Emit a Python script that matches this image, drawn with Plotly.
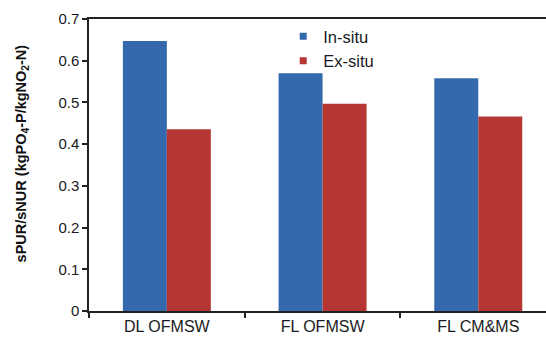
import plotly.graph_objects as go

categories = ["DL OFMSW", "FL OFMSW", "FL CM&MS"]
in_situ = [0.647, 0.570, 0.558]
ex_situ = [0.436, 0.497, 0.466]
series_names = ["In-situ", "Ex-situ"]
series_colors = ["#3469ad", "#b53633"]
y_title = "<b>sPUR/sNUR (kgPO<sub>4</sub>-P/kgNO<sub>2</sub>-N)</b>"

fig = go.Figure()
for name, vals, col in zip(series_names, [in_situ, ex_situ], series_colors):
    fig.add_trace(go.Bar(x=categories, y=vals, name=name, showlegend=False,
                         marker=dict(color=col, line=dict(width=0))))
# legend-only entries with small square swatches
for name, col in zip(series_names, series_colors):
    fig.add_trace(go.Scatter(x=[None], y=[None], mode="markers", name=name,
                             marker=dict(symbol="square", size=7, color=col)))

TXT = "#1a1a22"
fig.update_layout(
    width=546, height=339,
    margin=dict(l=89, r=0, t=19, b=28),
    paper_bgcolor="white", plot_bgcolor="white",
    barmode="group", bargap=0.435, bargroupgap=0,
    font=dict(family="Arial, Liberation Sans, sans-serif", size=15, color=TXT),
    legend=dict(x=0.425, y=1.0, xanchor="left", yanchor="top",
                bgcolor="rgba(0,0,0,0)", font=dict(size=16.5, color=TXT),
                itemwidth=30, tracegroupgap=0),
    showlegend=True,
    annotations=[dict(text=y_title, textangle=-90, xref="paper", yref="paper",
                      x=-0.1477, y=0.538, xanchor="center", yanchor="middle",
                      showarrow=False, font=dict(size=14.5, color="#111"))],
)
fig.update_xaxes(
    type="category", range=[-0.5, 2.435],
    showline=True, linecolor="#222", linewidth=1.5, mirror=True,
    ticks="outside", ticklen=5, tickcolor="#222", tickwidth=1.5,
    tickson="boundaries", showgrid=False, zeroline=False,
    tickfont=dict(size=16, color=TXT),
)
fig.update_yaxes(
    range=[0, 0.7], dtick=0.1, showgrid=False, zeroline=False,
    showline=True, linecolor="#222", linewidth=1.5,
    ticks="outside", ticklen=5, tickcolor="#222", tickwidth=1.5,
    tickfont=dict(size=15, color=TXT),
)

fig.write_html("out.html", config={"displayModeBar": False},
               post_script="document.body.style.margin='0';document.body.style.padding='0';")
